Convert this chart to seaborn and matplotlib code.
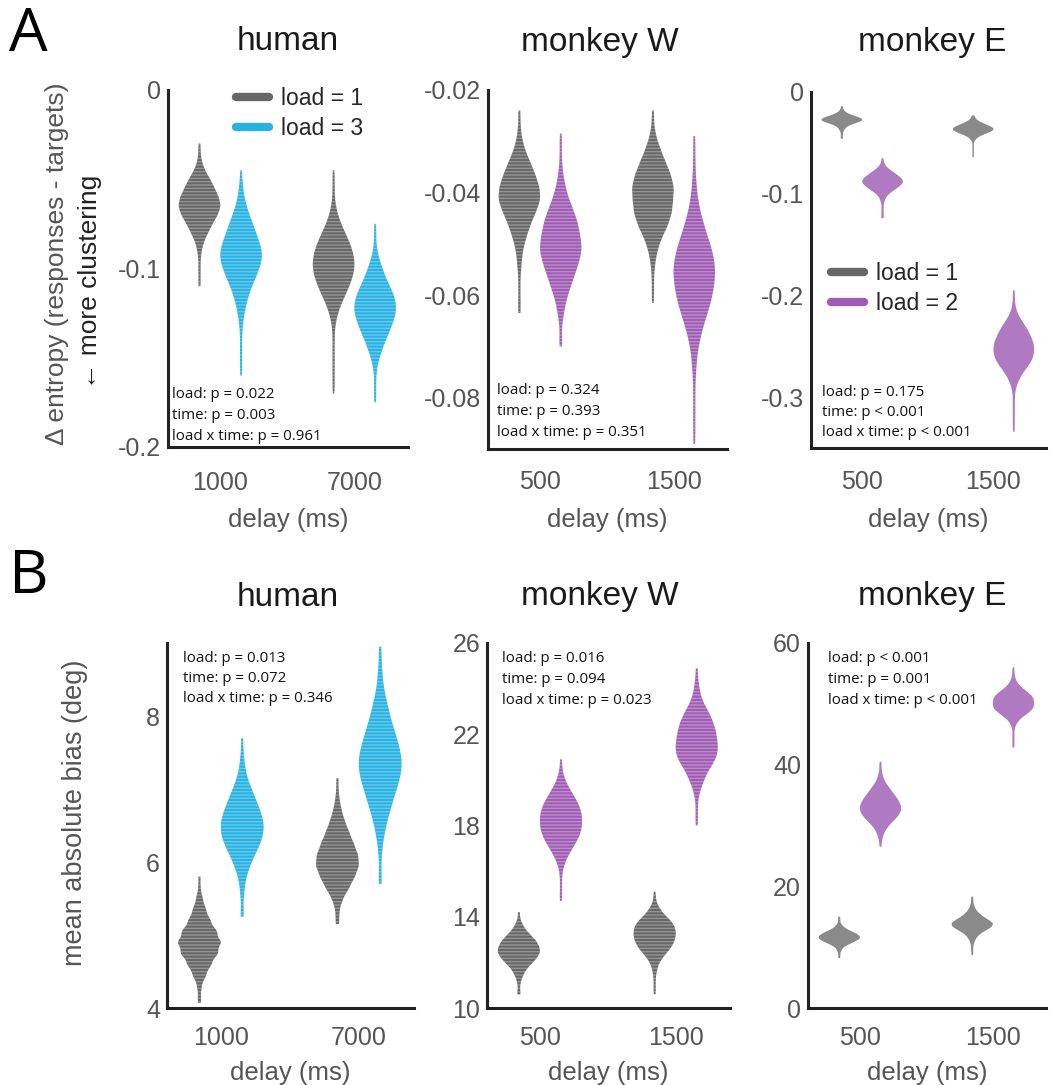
import numpy as np
import pandas as pd
import matplotlib
matplotlib.use("Agg")
import matplotlib.pyplot as plt
from matplotlib.lines import Line2D
import seaborn as sns

sns.set_theme(style="white")
plt.rcParams["font.family"] = ["Liberation Sans", "DejaVu Sans"]

GRAY = "#676767"
BLUE = "#27b2e3"
PURPLE = "#a05cb4"
GRAY_E = "#8a8a8a"
PURPLE_E = "#b07ac3"

# ---- bootstrap distributions: value levels and counts per condition ----
# human, entropy
H_ENT_L1_1000_V = [-0.030, -0.035, -0.040, -0.045, -0.050, -0.055, -0.060, -0.065, -0.070, -0.075, -0.080, -0.085, -0.090, -0.095, -0.100, -0.105, -0.110]
H_ENT_L1_1000_N = [1, 1, 2, 5, 10, 14, 18, 20, 17, 12, 8, 4, 2, 1, 1, 1, 1]
H_ENT_L3_1000_V = [-0.045, -0.050, -0.055, -0.060, -0.065, -0.070, -0.075, -0.080, -0.085, -0.090, -0.095, -0.100, -0.105, -0.110, -0.115, -0.120, -0.125, -0.130, -0.135, -0.140, -0.145, -0.150, -0.155, -0.160]
H_ENT_L3_1000_N = [1, 1, 2, 3, 5, 8, 11, 14, 17, 20, 20, 17, 14, 10, 7, 5, 3, 2, 1, 1, 1, 1, 1, 1]
H_ENT_L1_7000_V = [-0.045, -0.050, -0.055, -0.060, -0.065, -0.070, -0.075, -0.080, -0.085, -0.090, -0.095, -0.100, -0.105, -0.110, -0.115, -0.120, -0.125, -0.130, -0.135, -0.140, -0.145, -0.150, -0.155, -0.160, -0.165, -0.170]
H_ENT_L1_7000_N = [1, 1, 1, 1, 2, 4, 7, 11, 15, 18, 20, 20, 18, 15, 11, 7, 4, 2, 1, 1, 1, 1, 1, 1, 1, 1]
H_ENT_L3_7000_V = [-0.075, -0.080, -0.085, -0.090, -0.095, -0.100, -0.105, -0.110, -0.115, -0.120, -0.125, -0.130, -0.135, -0.140, -0.145, -0.150, -0.155, -0.160, -0.165, -0.170, -0.175]
H_ENT_L3_7000_N = [1, 1, 1, 2, 4, 7, 10, 14, 18, 20, 20, 17, 14, 10, 7, 4, 2, 1, 1, 1, 1]

# monkey W, entropy
W_ENT_L1_500_V = [-0.0240, -0.0265, -0.0290, -0.0315, -0.0340, -0.0365, -0.0390, -0.0415, -0.0440, -0.0465, -0.0490, -0.0515, -0.0540, -0.0565, -0.0590, -0.0615, -0.0635]
W_ENT_L1_500_N = [1, 1, 2, 5, 10, 15, 19, 20, 15, 10, 6, 3, 2, 1, 1, 1, 1]
W_ENT_L2_500_V = [-0.0285, -0.0310, -0.0335, -0.0360, -0.0385, -0.0410, -0.0435, -0.0460, -0.0485, -0.0510, -0.0535, -0.0560, -0.0585, -0.0610, -0.0635, -0.0660, -0.0685, -0.0700]
W_ENT_L2_500_N = [1, 1, 1, 2, 4, 7, 12, 16, 18, 20, 17, 13, 9, 5, 3, 1, 1, 1]
W_ENT_L1_1500_V = [-0.0240, -0.0265, -0.0290, -0.0315, -0.0340, -0.0365, -0.0390, -0.0415, -0.0440, -0.0465, -0.0490, -0.0515, -0.0540, -0.0565, -0.0590, -0.0615]
W_ENT_L1_1500_N = [1, 1, 3, 7, 12, 17, 20, 19, 18, 14, 8, 4, 2, 1, 1, 1]
W_ENT_L2_1500_V = [-0.0290, -0.0320, -0.0350, -0.0380, -0.0410, -0.0440, -0.0470, -0.0500, -0.0530, -0.0560, -0.0590, -0.0620, -0.0650, -0.0680, -0.0710, -0.0740, -0.0770, -0.0800, -0.0830, -0.0860, -0.0890]
W_ENT_L2_1500_N = [1, 1, 1, 2, 3, 6, 10, 15, 19, 20, 18, 15, 10, 6, 3, 2, 1, 1, 1, 1, 1]

# monkey E, entropy
E_ENT_L1_500_V = [-0.014, -0.016, -0.018, -0.020, -0.022, -0.024, -0.026, -0.028, -0.030, -0.032, -0.034, -0.036, -0.038, -0.040, -0.042, -0.044, -0.046]
E_ENT_L1_500_N = [1, 1, 2, 4, 8, 14, 19, 20, 15, 9, 5, 3, 2, 1, 1, 1, 1]
E_ENT_L2_500_V = [-0.065, -0.068, -0.071, -0.074, -0.077, -0.080, -0.083, -0.086, -0.089, -0.092, -0.095, -0.098, -0.101, -0.104, -0.107, -0.110, -0.113, -0.116, -0.119, -0.122, -0.124]
E_ENT_L2_500_N = [1, 1, 2, 4, 8, 12, 16, 19, 20, 17, 13, 9, 5, 3, 2, 1, 1, 1, 1, 1, 1]
E_ENT_L1_1500_V = [-0.023, -0.025, -0.027, -0.029, -0.031, -0.033, -0.035, -0.037, -0.039, -0.041, -0.043, -0.045, -0.047, -0.049, -0.052, -0.055, -0.058, -0.061, -0.064]
E_ENT_L1_1500_N = [1, 2, 3, 6, 10, 15, 19, 20, 17, 12, 7, 4, 2, 1, 1, 1, 1, 1, 1]
E_ENT_L2_1500_V = [-0.195, -0.201, -0.207, -0.213, -0.219, -0.225, -0.231, -0.237, -0.243, -0.249, -0.255, -0.261, -0.267, -0.273, -0.279, -0.285, -0.291, -0.297, -0.303, -0.309, -0.315, -0.321, -0.327, -0.334]
E_ENT_L2_1500_N = [1, 1, 1, 2, 4, 8, 12, 15, 18, 20, 20, 19, 16, 11, 7, 4, 2, 1, 1, 1, 1, 1, 1, 1]

# human, bias
H_BIAS_L1_1000_V = [5.80, 5.65, 5.50, 5.35, 5.20, 5.05, 4.90, 4.75, 4.60, 4.45, 4.30, 4.15, 4.07]
H_BIAS_L1_1000_N = [1, 1, 3, 6, 10, 16, 20, 17, 11, 6, 2, 1, 1]
H_BIAS_L3_1000_V = [7.70, 7.55, 7.40, 7.25, 7.10, 6.95, 6.80, 6.65, 6.50, 6.35, 6.20, 6.05, 5.90, 5.75, 5.60, 5.45, 5.30, 5.25]
H_BIAS_L3_1000_N = [1, 1, 2, 3, 6, 10, 14, 18, 20, 19, 15, 10, 6, 3, 2, 1, 1, 1]
H_BIAS_L1_7000_V = [7.15, 7.00, 6.85, 6.70, 6.55, 6.40, 6.25, 6.10, 5.95, 5.80, 5.65, 5.50, 5.35, 5.20, 5.15]
H_BIAS_L1_7000_N = [1, 1, 2, 4, 7, 11, 15, 19, 20, 16, 11, 5, 2, 1, 1]
H_BIAS_L3_7000_V = [8.95, 8.80, 8.60, 8.40, 8.20, 8.00, 7.80, 7.60, 7.40, 7.20, 7.00, 6.80, 6.60, 6.40, 6.20, 6.00, 5.80, 5.70]
H_BIAS_L3_7000_N = [1, 1, 2, 3, 6, 9, 13, 17, 20, 19, 15, 11, 7, 4, 2, 1, 1, 1]

# monkey W, bias
W_BIAS_L1_500_V = [14.2, 13.95, 13.7, 13.45, 13.2, 12.95, 12.7, 12.45, 12.2, 11.95, 11.7, 11.45, 11.2, 10.95, 10.7, 10.6]
W_BIAS_L1_500_N = [1, 1, 3, 6, 11, 16, 19, 20, 17, 12, 7, 4, 2, 1, 1, 1]
W_BIAS_L2_500_V = [20.9, 20.6, 20.3, 20.0, 19.7, 19.4, 19.1, 18.8, 18.5, 18.2, 17.9, 17.6, 17.3, 17.0, 16.7, 16.4, 16.1, 15.8, 15.5, 15.2, 14.9, 14.7]
W_BIAS_L2_500_N = [1, 1, 2, 4, 7, 11, 15, 18, 20, 20, 20, 18, 15, 11, 7, 4, 2, 1, 1, 1, 1, 1]
W_BIAS_L1_1500_V = [15.1, 14.85, 14.6, 14.35, 14.1, 13.85, 13.6, 13.35, 13.1, 12.85, 12.6, 12.35, 12.1, 11.85, 11.6, 11.35, 11.1, 10.85, 10.6]
W_BIAS_L1_1500_N = [1, 1, 2, 5, 9, 15, 19, 20, 20, 18, 15, 10, 6, 3, 2, 1, 1, 1, 1]
W_BIAS_L2_1500_V = [24.9, 24.55, 24.2, 23.85, 23.5, 23.15, 22.8, 22.45, 22.1, 21.75, 21.4, 21.05, 20.7, 20.35, 20.0, 19.65, 19.3, 18.95, 18.6, 18.3, 18.0]
W_BIAS_L2_1500_N = [1, 1, 2, 3, 5, 9, 13, 16, 18, 19, 20, 19, 15, 10, 7, 4, 2, 1, 1, 1, 1]

# monkey E, bias
E_BIAS_L1_500_V = [15.0, 14.6, 14.2, 13.8, 13.4, 13.0, 12.6, 12.2, 11.8, 11.4, 11.0, 10.6, 10.2, 9.8, 9.4, 9.0, 8.6, 8.2]
E_BIAS_L1_500_N = [1, 1, 1, 2, 4, 7, 12, 17, 20, 20, 16, 11, 6, 3, 2, 1, 1, 1]
E_BIAS_L2_500_V = [40.5, 39.8, 39.1, 38.4, 37.7, 37.0, 36.3, 35.6, 34.9, 34.2, 33.5, 32.8, 32.1, 31.4, 30.7, 30.0, 29.3, 28.6, 27.9, 27.2, 26.5]
E_BIAS_L2_500_N = [1, 1, 1, 2, 3, 5, 8, 11, 14, 17, 19, 20, 19, 16, 12, 8, 5, 3, 2, 1, 1]
E_BIAS_L1_1500_V = [18.3, 17.8, 17.3, 16.8, 16.3, 15.8, 15.3, 14.8, 14.3, 13.8, 13.3, 12.8, 12.3, 11.8, 11.3, 10.8, 10.3, 9.8, 9.3, 8.7]
E_BIAS_L1_1500_N = [1, 1, 1, 2, 3, 5, 8, 12, 17, 20, 18, 13, 8, 5, 3, 2, 1, 1, 1, 1]
E_BIAS_L2_1500_V = [56.0, 55.4, 54.8, 54.2, 53.6, 53.0, 52.4, 51.8, 51.2, 50.6, 50.0, 49.4, 48.8, 48.2, 47.6, 47.0, 46.4, 45.8, 45.2, 44.6, 44.0, 43.4, 42.8]
E_BIAS_L2_1500_N = [1, 1, 1, 2, 3, 6, 10, 15, 19, 20, 20, 20, 17, 12, 7, 4, 2, 1, 1, 1, 1, 1, 1]

DELAYS_H = ["1000", "7000"]
DELAYS_M = ["500", "1500"]
LOADS_H = ["1", "3"]
LOADS_M = ["1", "2"]

STATS = {
    "hA": ["load: p = 0.022", "time: p = 0.003", "load x time: p = 0.961"],
    "wA": ["load: p = 0.324", "time: p = 0.393", "load x time: p = 0.351"],
    "eA": ["load: p = 0.175", "time: p < 0.001", "load x time: p < 0.001"],
    "hB": ["load: p = 0.013", "time: p = 0.072", "load x time: p = 0.346"],
    "wB": ["load: p = 0.016", "time: p = 0.094", "load x time: p = 0.023"],
    "eB": ["load: p < 0.001", "time: p = 0.001", "load x time: p < 0.001"],
}


def frame(delays, loads, cells):
    rows = []
    k = 0
    for d in delays:
        for l in loads:
            vals, cnts = cells[k]
            k += 1
            for v in np.repeat(vals, cnts):
                rows.append((d, l, v))
    return pd.DataFrame(rows, columns=["delay", "load", "value"])


W, H = 1052, 1085
fig = plt.figure(figsize=(W / 100, H / 100), dpi=100)


def px_axes(left, top, right, bottom):
    return fig.add_axes([left / W, 1 - bottom / H, (right - left) / W, (bottom - top) / H])


TICK_C = "#555555"
SPINE_C = "#222222"


def style(ax, ylim, majors, labels, xpad, xlabelpad):
    ax.set_xlim(-0.39, 1.40)
    ax.set_ylim(*ylim)
    ax.set_yticks(majors)
    ax.set_yticklabels(labels)
    for s in ["top", "right"]:
        ax.spines[s].set_visible(False)
    for s in ["left", "bottom"]:
        ax.spines[s].set_color(SPINE_C)
        ax.spines[s].set_linewidth(2.2)
    ax.tick_params(axis="both", direction="in", length=6, width=2, color=SPINE_C,
                   labelsize=18, labelcolor=TICK_C, pad=5)
    ax.tick_params(axis="x", pad=xpad)
    ax.set_xlabel("delay (ms)", fontsize=18.5, color=TICK_C, labelpad=xlabelpad)
    ax.set_ylabel("")
    ax.grid(False)


def violins(ax, df, order, hue_order, pal, stripes=True):
    sns.violinplot(data=df, x="delay", y="value", hue="load", order=order,
                   hue_order=hue_order, palette=pal, density_norm="width",
                   width=0.62, inner=None, cut=0, linewidth=0, bw_method=0.22,
                   saturation=1, legend=False, ax=ax)
    for c in ax.collections:
        c.set_edgecolor("none")
        if stripes:
            c.set_hatch("-----")
            if hasattr(c, "set_hatchcolor"):
                c.set_hatchcolor((1, 1, 1, 0.3))
            else:
                c._hatch_color = (1, 1, 1, 0.3)
            c.set_linewidth(0)


def stats(ax, x_px, y_px, key):
    for i, line in enumerate(STATS[key]):
        fig.text(x_px / W, 1 - (y_px + 20.5 * i) / H, line, fontsize=10.8,
                 family=["Open Sans", "DejaVu Sans"], color="#111111", va="center", ha="left")


plt.rcParams["hatch.linewidth"] = 1.0

# ---------------- row A: entropy ----------------
axA1 = px_axes(168, 90, 408, 447)
dfA1 = frame(DELAYS_H, LOADS_H, [(H_ENT_L1_1000_V, H_ENT_L1_1000_N), (H_ENT_L3_1000_V, H_ENT_L3_1000_N),
                                 (H_ENT_L1_7000_V, H_ENT_L1_7000_N), (H_ENT_L3_7000_V, H_ENT_L3_7000_N)])
violins(axA1, dfA1, DELAYS_H, LOADS_H, [GRAY, BLUE])
style(axA1, (-0.2, 0), [-0.2, -0.15, -0.1, -0.05, 0], ["-0.2", "", "-0.1", "", "0"], 17, 10)

axA2 = px_axes(488, 90, 727, 449)
dfA2 = frame(DELAYS_M, LOADS_M, [(W_ENT_L1_500_V, W_ENT_L1_500_N), (W_ENT_L2_500_V, W_ENT_L2_500_N),
                                 (W_ENT_L1_1500_V, W_ENT_L1_1500_N), (W_ENT_L2_1500_V, W_ENT_L2_1500_N)])
violins(axA2, dfA2, DELAYS_M, LOADS_M, [GRAY, PURPLE])
style(axA2, (-0.09, -0.02), [-0.08, -0.07, -0.06, -0.05, -0.04, -0.03, -0.02],
      ["-0.08", "", "-0.06", "", "-0.04", "", "-0.02"], 15, 10)

axA3 = px_axes(811, 92, 1046, 448)
dfA3 = frame(DELAYS_M, LOADS_M, [(E_ENT_L1_500_V, E_ENT_L1_500_N), (E_ENT_L2_500_V, E_ENT_L2_500_N),
                                 (E_ENT_L1_1500_V, E_ENT_L1_1500_N), (E_ENT_L2_1500_V, E_ENT_L2_1500_N)])
violins(axA3, dfA3, DELAYS_M, LOADS_M, [GRAY_E, PURPLE_E], stripes=False)
style(axA3, (-0.35, 0), [-0.3, -0.25, -0.2, -0.15, -0.1, -0.05, 0],
      ["-0.3", "", "-0.2", "", "-0.1", "", "0"], 16, 10)

# ---------------- row B: bias ----------------
axB1 = px_axes(167, 643, 414, 1008)
dfB1 = frame(DELAYS_H, LOADS_H, [(H_BIAS_L1_1000_V, H_BIAS_L1_1000_N), (H_BIAS_L3_1000_V, H_BIAS_L3_1000_N),
                                 (H_BIAS_L1_7000_V, H_BIAS_L1_7000_N), (H_BIAS_L3_7000_V, H_BIAS_L3_7000_N)])
violins(axB1, dfB1, DELAYS_H, LOADS_H, [GRAY, BLUE])
style(axB1, (4, 9), [4, 5, 6, 7, 8, 9], ["4", "", "6", "", "8", ""], 13, 8)

axB2 = px_axes(487, 643, 730, 1008)
dfB2 = frame(DELAYS_M, LOADS_M, [(W_BIAS_L1_500_V, W_BIAS_L1_500_N), (W_BIAS_L2_500_V, W_BIAS_L2_500_N),
                                 (W_BIAS_L1_1500_V, W_BIAS_L1_1500_N), (W_BIAS_L2_1500_V, W_BIAS_L2_1500_N)])
violins(axB2, dfB2, DELAYS_M, LOADS_M, [GRAY, PURPLE])
style(axB2, (10, 26), [10, 12, 14, 16, 18, 20, 22, 24, 26],
      ["10", "", "14", "", "18", "", "22", "", "26"], 13, 8)

axB3 = px_axes(808, 643, 1046, 1008)
dfB3 = frame(DELAYS_M, LOADS_M, [(E_BIAS_L1_500_V, E_BIAS_L1_500_N), (E_BIAS_L2_500_V, E_BIAS_L2_500_N),
                                 (E_BIAS_L1_1500_V, E_BIAS_L1_1500_N), (E_BIAS_L2_1500_V, E_BIAS_L2_1500_N)])
violins(axB3, dfB3, DELAYS_M, LOADS_M, [GRAY_E, PURPLE_E], stripes=False)
style(axB3, (0, 60), [0, 10, 20, 30, 40, 50, 60], ["0", "", "20", "", "40", "", "60"], 13, 8)

# titles and panel letters
for (x, y, t) in [(288, 42, "human"), (600, 42, "monkey W"), (932, 42, "monkey E"),
                  (288, 597, "human"), (600, 597, "monkey W"), (932, 597, "monkey E")]:
    fig.text(x / W, 1 - y / H, t, fontsize=24, color="#1a1a1a", ha="center", va="center")
fig.text(9 / W, 1 - 35 / H, "A", fontsize=44, color="black",
         family=["Open Sans", "DejaVu Sans"], ha="left", va="center")
fig.text(9 / W, 1 - 577 / H, "B", fontsize=44, color="black",
         family=["Open Sans", "DejaVu Sans"], ha="left", va="center")

# y-axis labels
fig.text(57 / W, 1 - 264 / H, "\u0394 entropy (responses - targets)", rotation=90, fontsize=19,
         color=TICK_C, ha="center", va="center")
fig.text(90 / W, 1 - 282 / H, "\u2190 more clustering", rotation=90, fontsize=19,
         color="#222222", ha="center", va="center", family=["Liberation Sans", "DejaVu Sans"])
fig.text(75 / W, 1 - 813 / H, "mean absolute bias (deg)", rotation=90, fontsize=19.5,
         color=TICK_C, ha="center", va="center")

# statistics
stats(axA1, 172, 395, "hA")
stats(axA2, 497, 391, "wA")
stats(axA3, 822, 392, "eA")
stats(axB1, 183, 658, "hB")
stats(axB2, 502, 659, "wB")
stats(axB3, 828, 659, "eB")

# legends
leg_kw = dict(loc="upper left", frameon=False, fontsize=16.5, handlelength=1.45,
              handletextpad=0.5, labelspacing=0.32, borderaxespad=0.0, borderpad=0.0)
hA = [Line2D([], [], color=GRAY, lw=6), Line2D([], [], color=BLUE, lw=6)]
axA1.legend(hA, ["load = 1", "load = 3"], bbox_to_anchor=((236 - 168) / 240, 1 - (87 - 90) / 357), **leg_kw)
hE = [Line2D([], [], color=GRAY, lw=6), Line2D([], [], color=PURPLE, lw=6)]
axA3.legend(hE, ["load = 1", "load = 2"], bbox_to_anchor=((831 - 811) / 235, 1 - (262 - 92) / 356), **leg_kw)

fig.savefig("out.png", dpi=100)
